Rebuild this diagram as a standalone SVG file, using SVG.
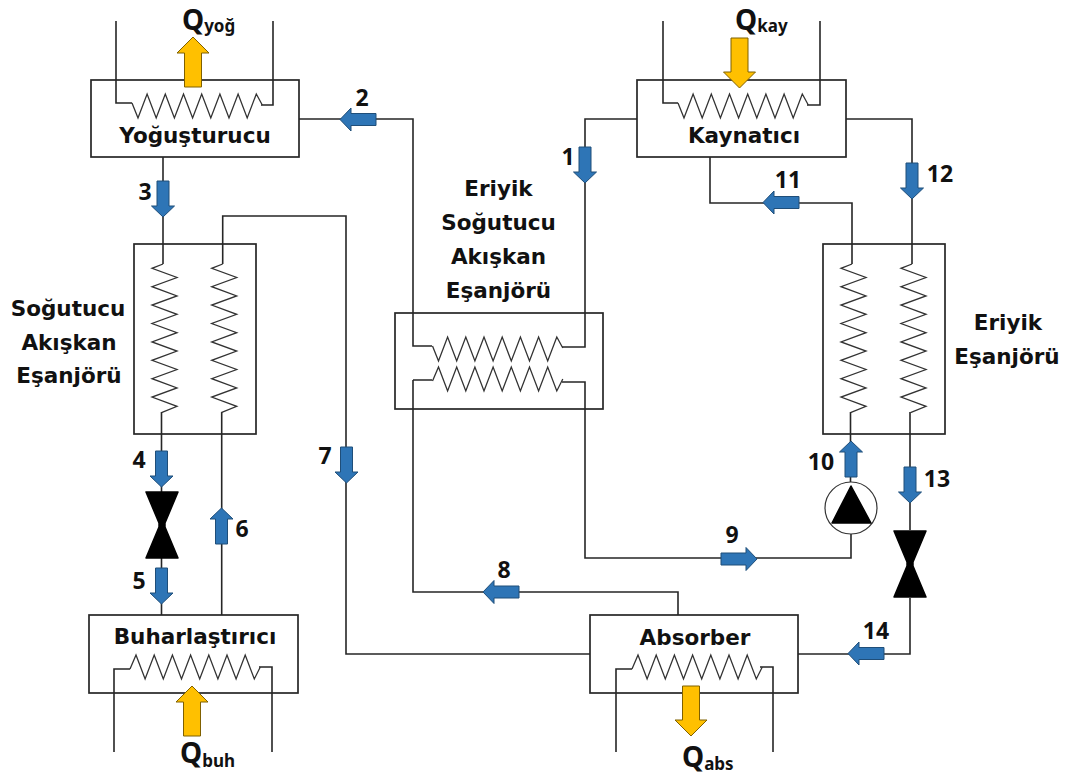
<svg xmlns="http://www.w3.org/2000/svg" width="1066" height="776" viewBox="0 0 1066 776">
<style>
text{font-weight:700;fill:#111;text-anchor:middle}
.lbl{font-family:"DejaVu Sans",sans-serif;font-size:21.500px}
.num{font-family:"Noto Sans",sans-serif;font-size:23px}
.q{font-family:"Noto Sans",sans-serif;font-size:28px;text-anchor:start}
.q tspan{font-size:17px}
.box{fill:none;stroke:#262626;stroke-width:1.7}
.ln{fill:none;stroke:#262626;stroke-width:1.6}
.coil{fill:none;stroke:#333;stroke-width:1.3}
.blue{fill:#2E75B6;stroke:#1F4E79;stroke-width:1}
.gold{fill:#FFC000;stroke:#7F6000;stroke-width:1}
.blk{fill:#000;stroke:#000;stroke-width:1.5;stroke-linejoin:round}
</style>
<defs>
<path id="hdn" class="coil" d="M0 0l6 15l9.1-24l9.1 24l9.1-24l9.1 24l9.1-24l9.1 24l9.1-24l9.1 24l9.1-24l9.1 24l9.1-24l9.1 24l9.1-24l6 11"/>
<path id="hup" class="coil" d="M0 0l6-14l9.1 24l9.1-24l9.1 24l9.1-24l9.1 24l9.1-24l9.1 24l9.1-24l9.1 24l9.1-24l9.1 24l9.1-24l9.1 24l6-12"/>
<path id="vc" class="coil" d="M0 0l-11 4.3l25 9.2l-25 9.2l25 9.2l-25 9.2l25 9.2l-25 9.2l25 9.2l-25 9.2l25 9.2l-25 9.2l25 9.2l-25 9.2l25 9.2l-25 9.2l25 9.2l-15.5 6.300"/>
<path id="ar" class="blue" d="M-6 0H6V25H11.500L0 36L-11.500 25H-6Z"/>
<path id="gd" class="gold" d="M-8.500 0H8.500V34H16L0 50L-16 34H-8.500Z"/>
<path id="val" class="blk" d="M-16 -33H16L3 -2V2L16 33H-16L-3 2V-2Z"/>
</defs>
<g id="connectors">
<path class="ln" d="M299 119H413V346H432"/>
<path class="ln" d="M637 119H585V347H562"/>
<path class="ln" d="M163 157V264"/>
<path class="ln" d="M222.700 264V216H346V654H590"/>
<path class="ln" d="M161.500 412V492M161.500 558V615"/>
<path class="ln" d="M221.700 412V615"/>
<path class="ln" d="M413 380H432M413 380V592H678V615"/>
<path class="ln" d="M562 382H585V558H851V534"/>
<path class="ln" d="M850.500 482V412"/>
<path class="ln" d="M710 157V203H852V264"/>
<path class="ln" d="M846 119H912V264"/>
<path class="ln" d="M910 412V530M910 598V654H798"/>
<use href="#ar" transform="translate(585 147)"/>
<use href="#ar" transform="translate(376 119.500) rotate(90)"/>
<use href="#ar" transform="translate(163 181)"/>
<use href="#ar" transform="translate(161.500 451)"/>
<use href="#ar" transform="translate(161.500 568)"/>
<use href="#ar" transform="translate(221.500 544) rotate(180)"/>
<use href="#ar" transform="translate(346.500 447)"/>
<use href="#ar" transform="translate(519 592) rotate(90)"/>
<use href="#ar" transform="translate(721 559) rotate(-90)"/>
<use href="#ar" transform="translate(851 477) rotate(180)"/>
<use href="#ar" transform="translate(799 202.500) rotate(90)"/>
<use href="#ar" transform="translate(912 163)"/>
<use href="#ar" transform="translate(910 467)"/>
<use href="#ar" transform="translate(884 653.500) rotate(90)"/>
<text class="num" x="362" y="106">2</text>
<text class="num" x="568" y="165">1</text>
<text class="num" x="145" y="200">3</text>
<text class="num" x="139" y="468">4</text>
<text class="num" x="139" y="589">5</text>
<text class="num" x="242" y="537">6</text>
<text class="num" x="325" y="464">7</text>
<text class="num" x="504" y="578">8</text>
<text class="num" x="732" y="543">9</text>
<text class="num" x="821" y="470">10</text>
<text class="num" x="788" y="188">11</text>
<text class="num" x="940" y="182">12</text>
<text class="num" x="937" y="487">13</text>
<text class="num" x="876" y="639">14</text>
</g>
<g id="yogusturucu">
<rect class="box" x="91" y="80" width="208" height="77"/>
<path class="ln" d="M116 21V103H132M261 105H273V21"/>
<use href="#hdn" x="132" y="103"/>
<use href="#gd" transform="translate(193 87) rotate(180)"/>
<text class="lbl" x="195" y="143">Yoğuşturucu</text>
<text class="q" x="182" y="30">Q<tspan dy="2">yoğ</tspan></text>
</g>
<g id="kaynatici">
<rect class="box" x="637" y="80" width="209" height="77"/>
<path class="ln" d="M663 21V103H678M807 105H820V21"/>
<use href="#hdn" x="678" y="103"/>
<use href="#gd" transform="translate(739.500 38)"/>
<text class="lbl" x="744" y="143">Kaynatıcı</text>
<text class="q" x="735" y="30">Q<tspan dy="2">kay</tspan></text>
</g>
<g id="eriyik-sogutucu-akiskan-esanjoru">
<rect class="box" x="395" y="313" width="208" height="96"/>
<use href="#hdn" x="432.500" y="346"/>
<use href="#hup" x="432.500" y="381"/>
<text class="lbl" x="498.500" y="196">Eriyik</text>
<text class="lbl" x="498.500" y="230">Soğutucu</text>
<text class="lbl" x="498.500" y="264">Akışkan</text>
<text class="lbl" x="498.500" y="298">Eşanjörü</text>
</g>
<g id="sogutucu-akiskan-esanjoru">
<rect class="box" x="134" y="244" width="122" height="190"/>
<use href="#vc" x="163" y="264"/>
<use href="#vc" x="222.700" y="264"/>
<text class="lbl" x="68" y="316">Soğutucu</text>
<text class="lbl" x="69" y="350">Akışkan</text>
<text class="lbl" x="69" y="383">Eşanjörü</text>
</g>
<g id="eriyik-esanjoru">
<rect class="box" x="823" y="244" width="122" height="190"/>
<use href="#vc" x="852" y="264"/>
<use href="#vc" x="912" y="264"/>
<text class="lbl" x="1008" y="330">Eriyik</text>
<text class="lbl" x="1007" y="364">Eşanjörü</text>
</g>
<g id="valf-1"><use href="#val" x="162" y="525"/></g>
<g id="valf-2"><use href="#val" x="910" y="564"/></g>
<g id="pompa">
<circle cx="851" cy="508" r="26" fill="#fff" stroke="#333" stroke-width="1.200"/>
<path class="blk" d="M851 486L871 523H832Z"/>
</g>
<g id="buharlastirici">
<rect class="box" x="89" y="615" width="209" height="78"/>
<path class="ln" d="M114 752V669H130M259 667H272V752"/>
<use href="#hup" x="130" y="669"/>
<use href="#gd" transform="translate(192 736) rotate(180)"/>
<text class="lbl" x="195" y="644">Buharlaştırıcı</text>
<text class="q" x="180" y="763">Q<tspan dy="4">buh</tspan></text>
</g>
<g id="absorber">
<rect class="box" x="590" y="615" width="208" height="78"/>
<path class="ln" d="M616 752V669H632M760 667H773V752"/>
<use href="#hup" x="632" y="669"/>
<use href="#gd" transform="translate(691 686)"/>
<text class="lbl" x="695" y="645">Absorber</text>
<text class="q" x="682" y="767">Q<tspan dy="3">abs</tspan></text>
</g>
</svg>
